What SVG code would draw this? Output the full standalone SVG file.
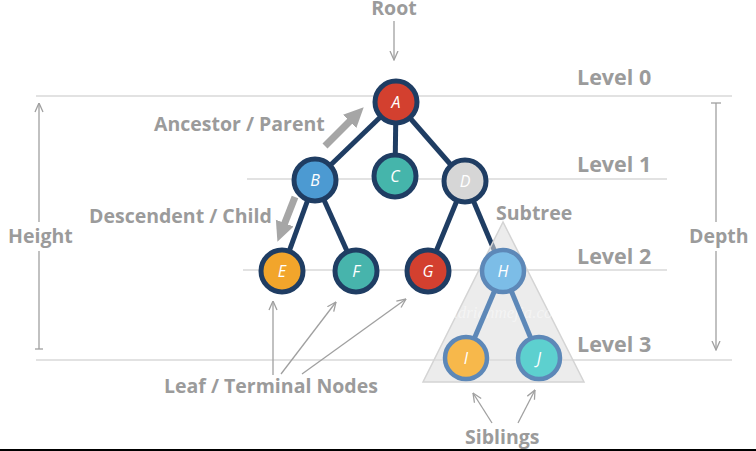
<svg xmlns="http://www.w3.org/2000/svg" width="756" height="451" viewBox="0 0 756 451">
<style>
.lvl{stroke:#e2e2e2;stroke-width:2;fill:none}
.lbl{font-family:"Open Sans","Noto Sans",sans-serif;font-weight:700;fill:#9b9b9b}
.big{font-size:21.5px}
.mid{font-size:19.5px}
.thin{stroke:#a0a0a0;stroke-width:1.3;fill:none}
.thick{stroke:#a6a6a6;stroke-width:7;fill:none}
.edge{stroke:#1f3d63;stroke-width:5;fill:none}
.edge2{stroke:#5d88b8;stroke-width:5;fill:none}
.node circle{stroke:#1f3d63;stroke-width:5}
.sub circle{stroke:#5d88b8;stroke-width:4.5}
.node text{font-family:"Open Sans","Noto Sans",sans-serif;font-style:italic;font-size:16px;fill:#ffffff;text-anchor:middle}
</style>
<defs>
<marker id="open" markerUnits="userSpaceOnUse" viewBox="0 0 10 10" markerWidth="10" markerHeight="10" refX="9.5" refY="5" orient="auto">
<path d="M0.5,1 L9.5,5 L0.5,9" fill="none" stroke="#a0a0a0" stroke-width="1.3"/>
</marker>
<marker id="fat" markerUnits="userSpaceOnUse" viewBox="0 0 20 20" markerWidth="20" markerHeight="20" refX="2" refY="10" orient="auto">
<path d="M0,0.5 L20,10 L0,19.5 Z" fill="#a6a6a6"/>
</marker>
</defs>
<rect x="0" y="0" width="756" height="451" fill="#ffffff"/>

<g id="levels">
<line class="lvl" x1="36" y1="96" x2="732" y2="96"/>
<line class="lvl" x1="247" y1="179" x2="667" y2="179"/>
<line class="lvl" x1="243" y1="270" x2="667" y2="270"/>
<line class="lvl" x1="36" y1="360" x2="732" y2="360"/>
<text class="lbl big" x="577" y="85">Level 0</text>
<text class="lbl big" x="577" y="172">Level 1</text>
<text class="lbl big" x="577" y="264">Level 2</text>
<text class="lbl big" x="577" y="352">Level 3</text>
</g>

<g id="height">
<line class="thin" x1="39" y1="349" x2="39" y2="251"/>
<line class="thin" x1="39" y1="222" x2="39" y2="103" marker-end="url(#open)"/>
<line class="thin" x1="35" y1="349" x2="43" y2="349"/>
<text class="lbl mid" x="8" y="243">Height</text>
</g>

<g id="depth">
<line class="thin" x1="711" y1="103" x2="721" y2="103"/>
<line class="thin" x1="716" y1="103" x2="716" y2="222"/>
<line class="thin" x1="716" y1="251" x2="716" y2="350" marker-end="url(#open)"/>
<text class="lbl mid" x="689" y="243">Depth</text>
</g>

<g id="connectors">
<line class="edge" x1="396" y1="102" x2="315" y2="180"/>
<line class="edge" x1="396" y1="102" x2="395" y2="176"/>
<line class="edge" x1="396" y1="102" x2="465" y2="181"/>
<line class="edge" x1="315" y1="180" x2="282" y2="271"/>
<line class="edge" x1="315" y1="180" x2="356" y2="271"/>
<line class="edge" x1="465" y1="181" x2="428" y2="271"/>
<line class="edge" x1="465" y1="181" x2="503" y2="271"/>
</g>

<g id="subtree">
<polygon points="503,222 423,382 584,382" fill="#dcdcdc" fill-opacity="0.55" stroke="#d4d4d4" stroke-width="1.5"/>
<text x="507" y="318" font-family="'Liberation Serif',serif" font-style="italic" font-size="17" fill="#ffffff" fill-opacity="0.45" text-anchor="middle">adrianmejia.com</text>
<line class="edge2" x1="503" y1="271" x2="466" y2="358"/>
<line class="edge2" x1="503" y1="271" x2="539" y2="358"/>
<text class="lbl mid" x="496" y="220">Subtree</text>
</g>

<g id="nodeA" class="node"><circle cx="396" cy="102" r="21" fill="#d3402f"/><text x="396" y="108">A</text></g>
<g id="nodeB" class="node"><circle cx="315" cy="180" r="21" fill="#4c9ad2"/><text x="315" y="186">B</text></g>
<g id="nodeC" class="node"><circle cx="395" cy="176" r="21" fill="#45b5ab"/><text x="395" y="182">C</text></g>
<g id="nodeD" class="node"><circle cx="465" cy="181" r="21" fill="#d6d6d6"/><text x="465" y="187">D</text></g>
<g id="nodeE" class="node"><circle cx="282" cy="271" r="21" fill="#f2a52b"/><text x="282" y="277">E</text></g>
<g id="nodeF" class="node"><circle cx="356" cy="271" r="21" fill="#47b4ac"/><text x="356" y="277">F</text></g>
<g id="nodeG" class="node"><circle cx="428" cy="271" r="21" fill="#d3402f"/><text x="428" y="277">G</text></g>
<g id="nodeH" class="node sub"><circle cx="503" cy="271" r="21" fill="#7cbde7"/><text x="503" y="277">H</text></g>
<g id="nodeI" class="node sub"><circle cx="466" cy="358" r="21" fill="#f7b84b"/><text x="466" y="364">I</text></g>
<g id="nodeJ" class="node sub"><circle cx="539" cy="358" r="21" fill="#5dd0cf"/><text x="539" y="364">J</text></g>

<g id="annotations">
<text class="lbl mid" x="394" y="15" text-anchor="middle">Root</text>
<line class="thin" x1="394" y1="21" x2="394" y2="60" marker-end="url(#open)"/>
<text class="lbl mid" x="154" y="131">Ancestor / Parent</text>
<line class="thick" x1="325" y1="146" x2="351" y2="120" marker-end="url(#fat)"/>
<text class="lbl mid" x="89" y="223">Descendent / Child</text>
<line class="thick" x1="295" y1="197" x2="284" y2="225" marker-end="url(#fat)"/>
<text class="lbl mid" x="164" y="393">Leaf / Terminal Nodes</text>
<line class="thin" x1="273" y1="375" x2="273" y2="301" marker-end="url(#open)"/>
<line class="thin" x1="281" y1="374" x2="336" y2="302" marker-end="url(#open)"/>
<line class="thin" x1="302" y1="374" x2="406" y2="299" marker-end="url(#open)"/>
<text class="lbl mid" x="465" y="444">Siblings</text>
<line class="thin" x1="492" y1="423" x2="473" y2="393" marker-end="url(#open)"/>
<line class="thin" x1="518" y1="423" x2="535" y2="390" marker-end="url(#open)"/>
</g>
<rect x="0" y="449" width="756" height="2" fill="#000000"/>
</svg>
